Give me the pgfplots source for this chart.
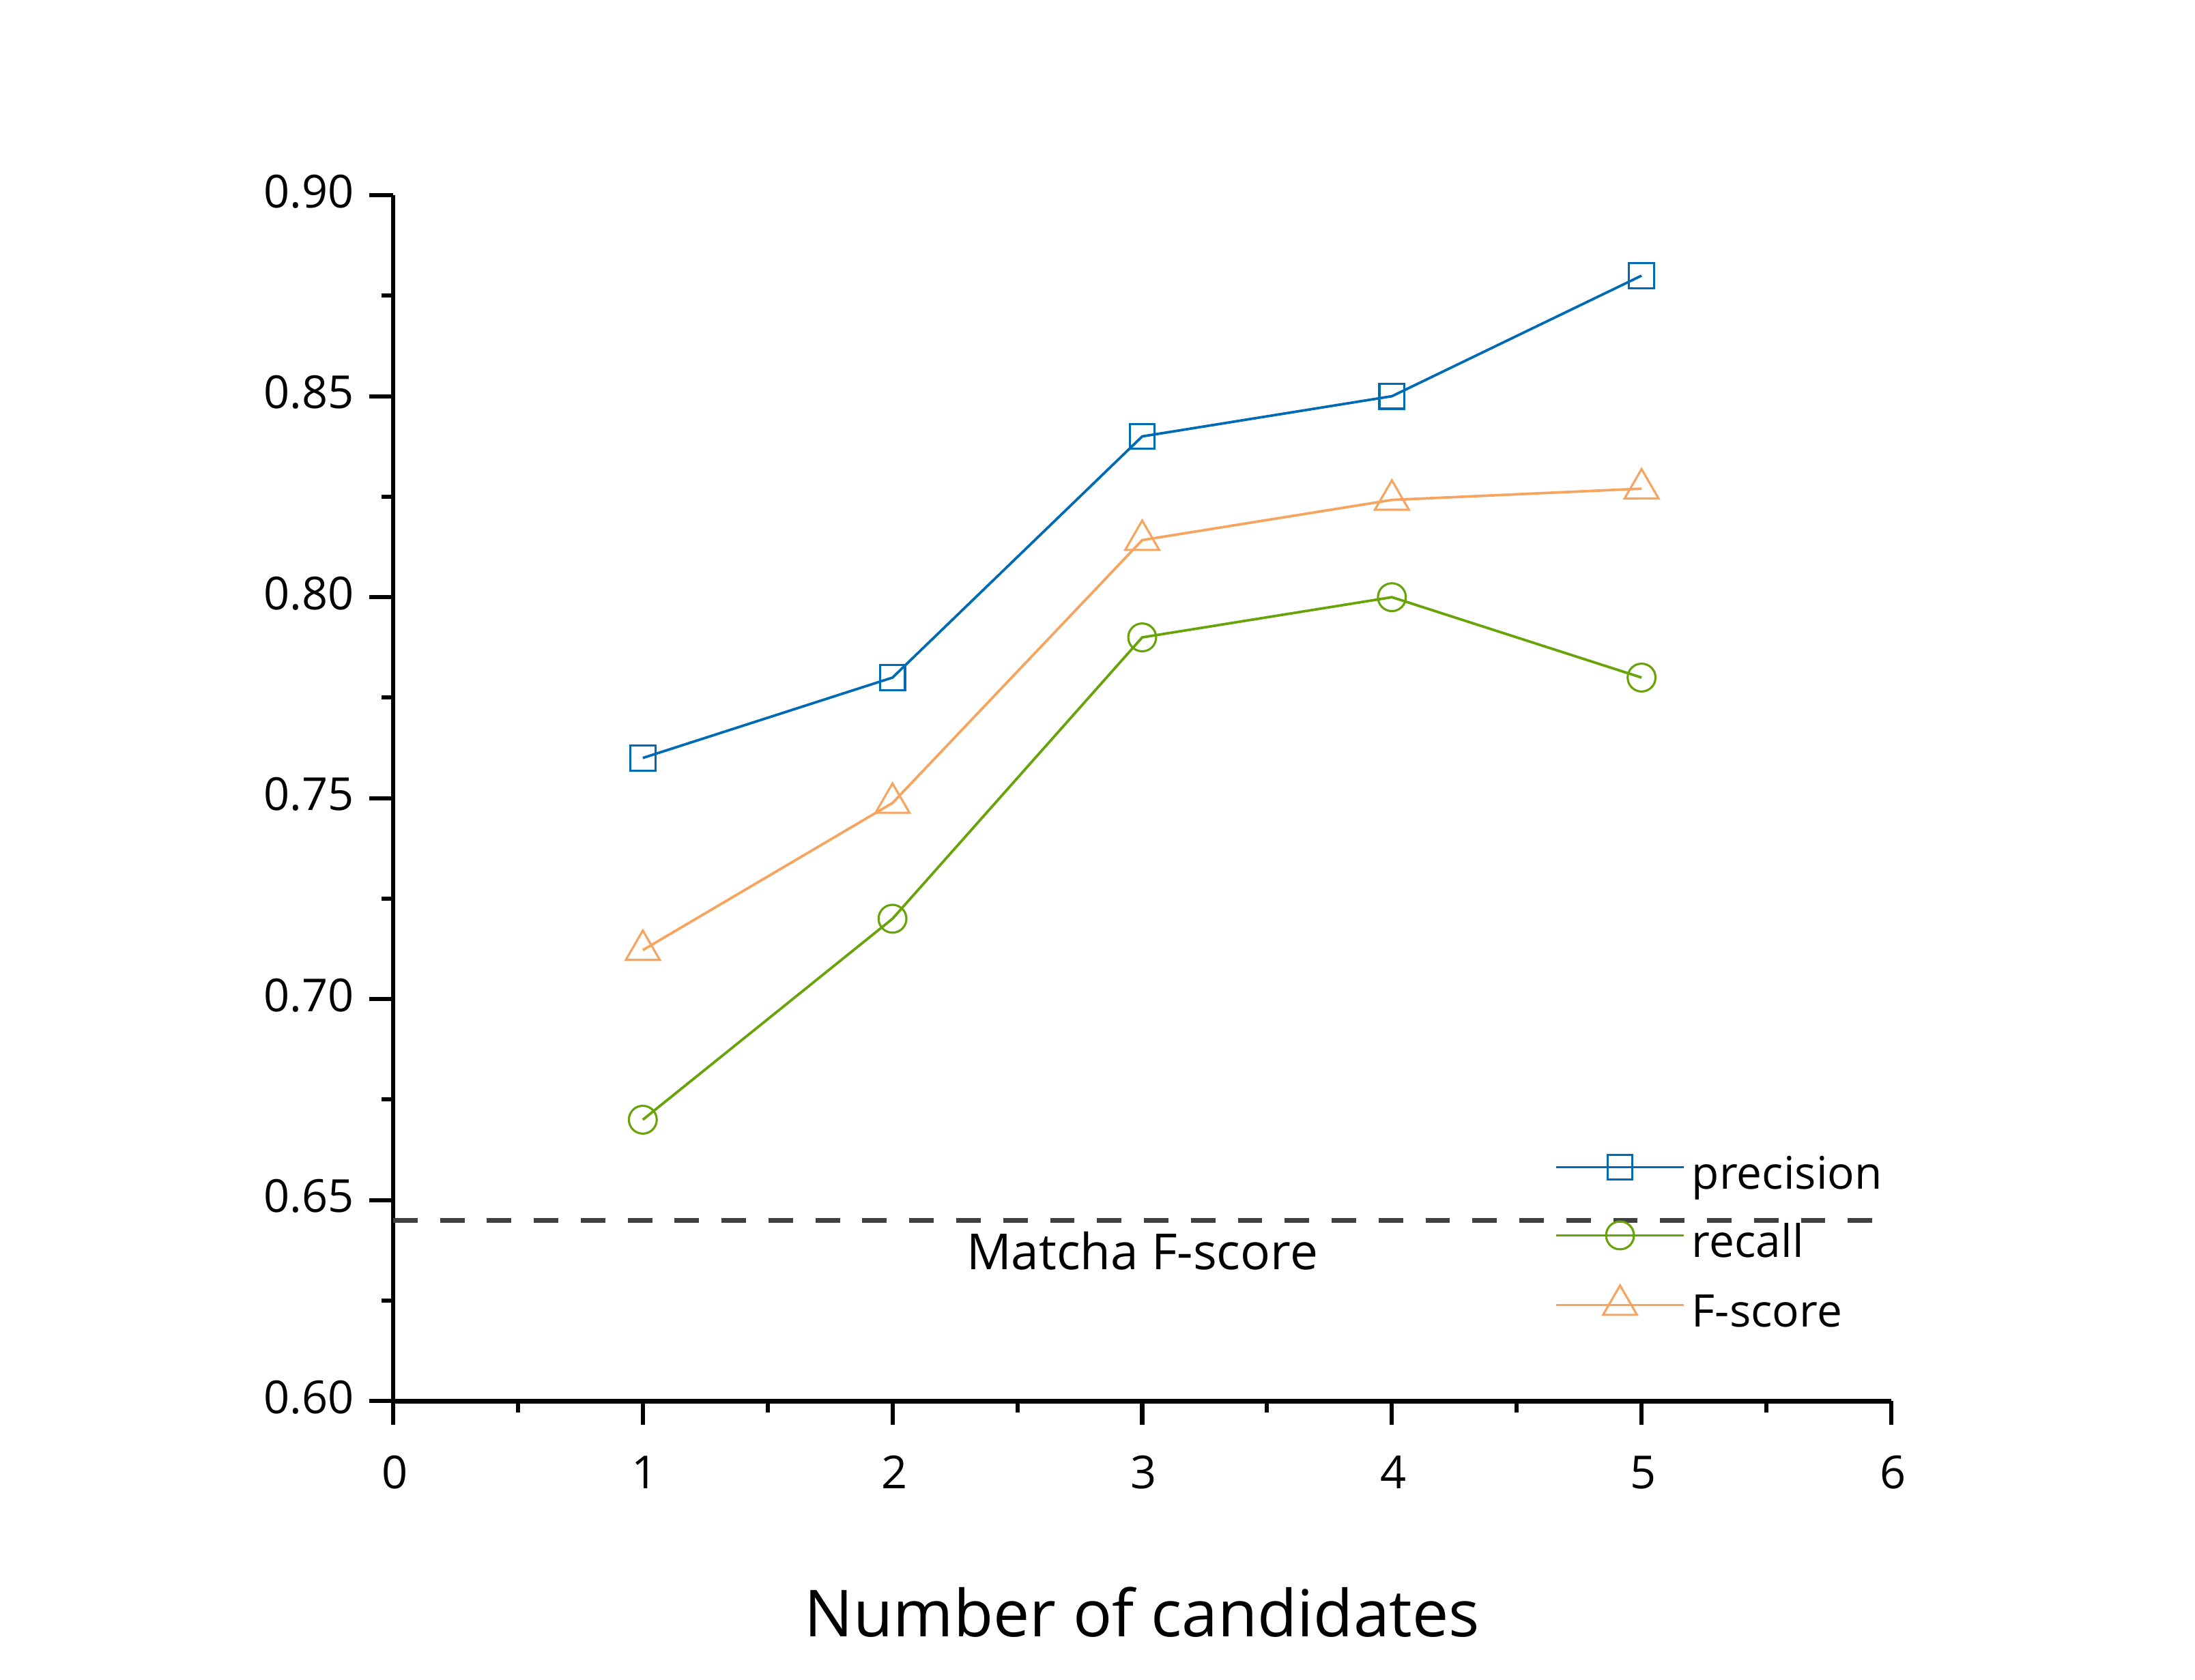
\documentclass[border=0pt]{standalone}
\usepackage{fontspec}
\setmainfont{Open Sans}
\usepackage{pgfplots}
\pgfplotsset{compat=1.18}
\definecolor{cblue}{RGB}{0,107,180}
\definecolor{cgreen}{RGB}{104,163,10}
\definecolor{corange}{RGB}{245,165,96}
\definecolor{dgray}{RGB}{64,64,64}
\begin{document}
\begin{tikzpicture}
\begin{axis}[
  scale only axis, width=526.8pt, height=424.1pt,
  xmin=0, xmax=6, ymin=0.6, ymax=0.9,
  axis lines=left, axis line style={-, line width=1.6pt, black},
  xtick={0,1,2,3,4,5,6}, minor x tick num=1,
  ytick={0.6,0.65,0.7,0.75,0.8,0.85,0.9}, minor y tick num=1,
  tick align=outside, major tick length=8.4pt, minor tick length=4.1pt,
  every tick/.style={line width=1.45pt, black},
  /pgf/number format/assume math mode=true,
  ticklabel style={font=\fontsize{16}{19}\selectfont},
  yticklabel style={/pgf/number format/fixed, /pgf/number format/fixed zerofill, /pgf/number format/precision=2, anchor=east, inner sep=0pt, xshift=-5.1pt, yshift=1.4pt},
  xticklabel style={anchor=base, inner sep=0pt, yshift=-22.5pt, xshift=0.6pt},
  xlabel={Number of candidates},
  xlabel style={font=\fontsize{22.8}{27}\selectfont, at={(axis description cs:0.5,-0.1952)}, anchor=base, inner sep=0pt},
  clip=false,
  legend style={draw=none, fill=none, at={(axis cs:4.654,0.6392)}, anchor=west,
    inner sep=0pt, outer sep=0pt, font=\fontsize{15.8}{19}\selectfont, row sep=6pt,
    nodes={inner sep=0pt, text height=14pt, text depth=4pt},
    /tikz/every odd column/.append style={column sep=2.5pt},
    /tikz/every even column/.append style={column sep=8pt}},
  legend cell align=left,
  legend image code/.code={\draw[yshift=2.6pt,mark repeat=2,mark phase=2,#1] plot coordinates {(0pt,0pt)(22.35pt,0pt)(44.7pt,0pt)};},
]
\addplot[color=dgray, line width=1.6pt, dash pattern=on 8.6pt off 7.9pt, forget plot] coordinates {(0,0.645)(6,0.645)};
\addplot[color=cblue, line width=0.9pt, mark=square, mark size=4.4pt, mark options={fill=white, line width=0.75pt, solid}] coordinates {(1,0.76)(2,0.78)(3,0.84)(4,0.85)(5,0.88)};
\addplot[color=cgreen, line width=0.9pt, mark=o, mark size=4.9pt, mark options={fill=white, line width=0.75pt, solid}] coordinates {(1,0.67)(2,0.72)(3,0.79)(4,0.80)(5,0.78)};
\addplot[color=corange, line width=0.9pt, mark=triangle, mark size=6.9pt, mark options={fill=white, line width=0.75pt, solid}] coordinates {(1,0.7122)(2,0.7488)(3,0.8142)(4,0.8242)(5,0.8270)};
\legend{precision, recall, F-score}
\node[anchor=base, font=\fontsize{17.5}{21}\selectfont, inner sep=0pt] at (axis cs:3.0,0.6328) {Matcha F-score};
\coordinate (bl) at (rel axis cs:0,0);
\end{axis}
\pgfresetboundingbox
\path[use as bounding box] (bl) ++(-138.24pt,-98.1pt) rectangle ++(771.84pt,590.88pt);
\end{tikzpicture}
\end{document}
